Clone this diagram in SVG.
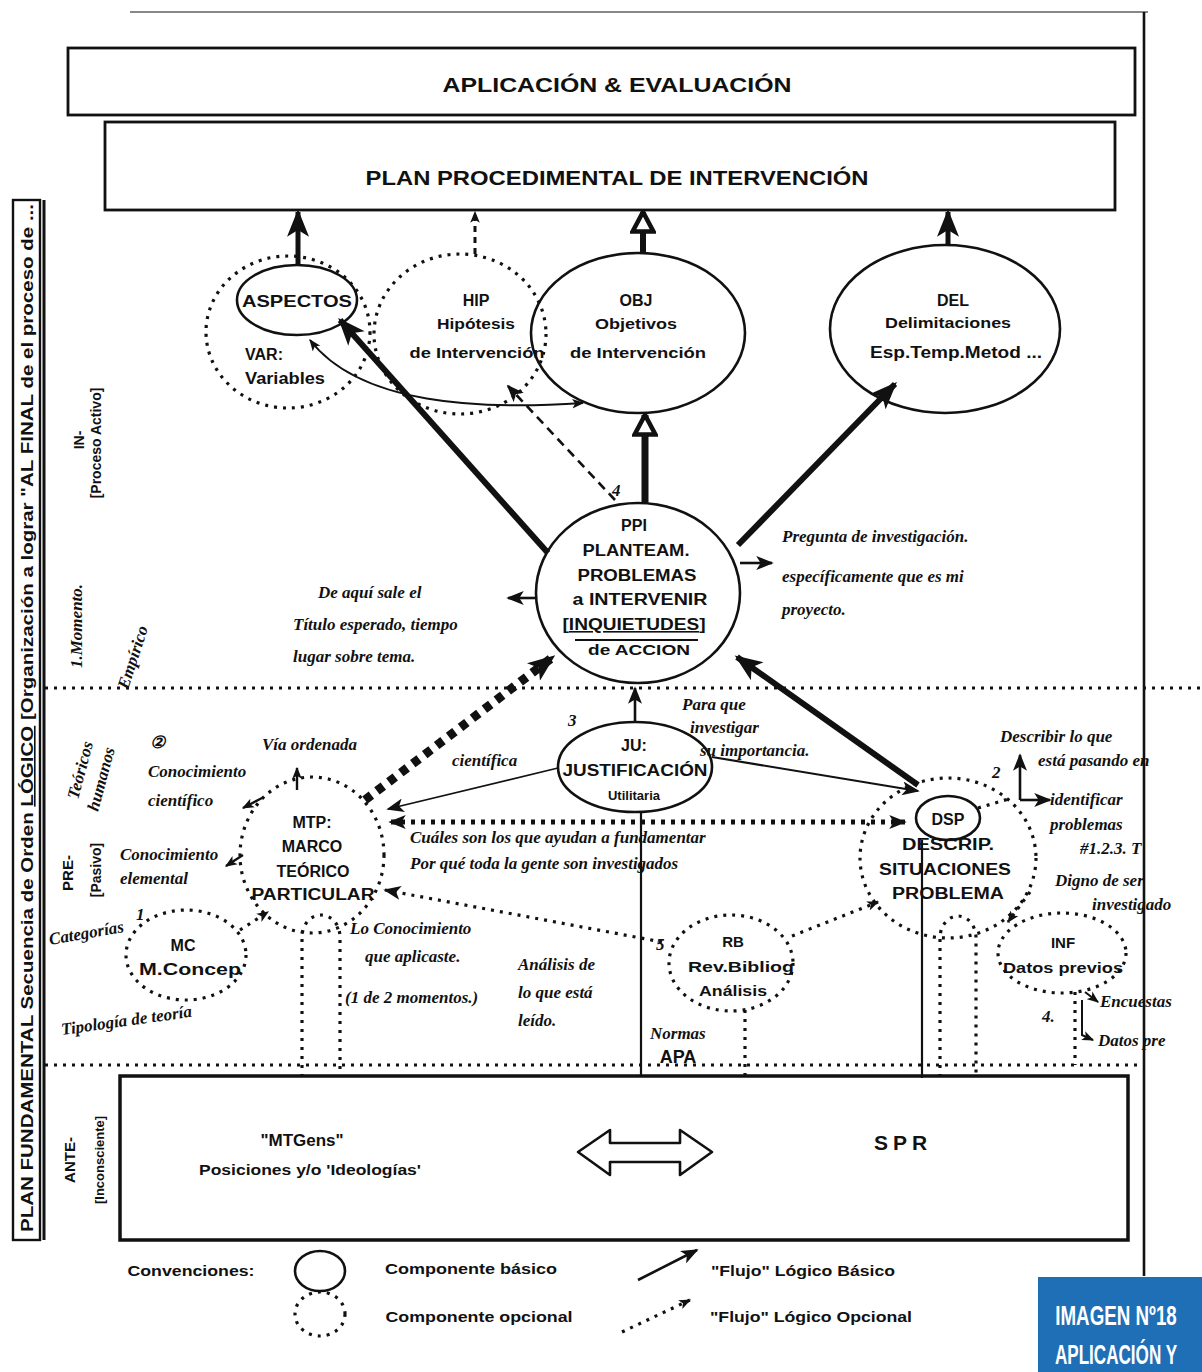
<svg xmlns="http://www.w3.org/2000/svg" width="1202" height="1372" viewBox="0 0 1202 1372">
<style>
.ink{stroke:#111;fill:none}
.solid{stroke:#111;fill:none;stroke-width:2.6}
.dot{stroke:#111;fill:none;stroke-width:3.2;stroke-dasharray:3 6}
.t{font-family:"Liberation Sans",Arial,sans-serif;fill:#111;text-anchor:middle;font-weight:bold}
.b{font-weight:bold}
.h{font-family:"Liberation Serif","DejaVu Serif",serif;font-style:italic;font-weight:bold;fill:#111;font-size:17px}
</style>
<defs>
<marker id="big" viewBox="0 0 20 16" refX="18" refY="8" markerWidth="28" markerHeight="22" orient="auto" markerUnits="userSpaceOnUse"><path d="M0,0 L20,8 L0,16 L5,8 z" fill="#111"/></marker>
<marker id="med" viewBox="0 0 20 16" refX="18" refY="8" markerWidth="18" markerHeight="14" orient="auto-start-reverse" markerUnits="userSpaceOnUse"><path d="M0,0 L20,8 L0,16 L5,8 z" fill="#111"/></marker>
<marker id="sm" viewBox="0 0 20 16" refX="18" refY="8" markerWidth="12" markerHeight="10" orient="auto-start-reverse" markerUnits="userSpaceOnUse"><path d="M0,0 L20,8 L0,16 L5,8 z" fill="#111"/></marker>
<marker id="open" viewBox="0 0 20 20" refX="18" refY="10" markerWidth="26" markerHeight="26" orient="auto" markerUnits="userSpaceOnUse"><path d="M3,2 L18,10 L3,18 z" fill="#fff" stroke="#111" stroke-width="3.5"/></marker>
</defs>
<rect width="1202" height="1372" fill="#fff"/>

<!-- frame lines -->
<g id="frame">
<line x1="130" y1="12" x2="1148" y2="12" stroke="#111" stroke-width="1"/>
<line x1="1144" y1="12" x2="1144" y2="1276" stroke="#111" stroke-width="2.6"/>
<line x1="45" y1="688" x2="1202" y2="688" class="dot" stroke-width="2.6"/>
<line x1="45" y1="1065" x2="1143" y2="1065" class="dot" stroke-width="2.4"/>
</g>

<!-- left vertical label -->
<g id="left-labels">
<rect x="13" y="200" width="27" height="1040" class="ink" stroke-width="2.4"/>
<line x1="44" y1="200" x2="44" y2="1240" stroke="#111" stroke-width="3"/>
<text class="t" font-size="16" transform="translate(33,1232) rotate(-90)" style="text-anchor:start" textLength="1028" lengthAdjust="spacingAndGlyphs">PLAN FUNDAMENTAL  Secuencia de Orden <tspan text-decoration="underline">LÓGICO</tspan> [Organización a lograr "AL FINAL de el proceso de ...</text>
<text class="t" font-size="14" transform="translate(84,440) rotate(-90)">IN-</text>
<text class="t" font-size="14" transform="translate(101,443) rotate(-90)">[Proceso Activo]</text>
<text class="t" font-size="15" transform="translate(73,873) rotate(-90)">PRE-</text>
<text class="t" font-size="14" transform="translate(101,870) rotate(-90)">[Pasivo]</text>
<text class="t" font-size="15" transform="translate(75,1160) rotate(-90)">ANTE-</text>
<text class="t" font-size="13" transform="translate(104,1160) rotate(-90)">[Inconsciente]</text>
</g>

<!-- top boxes -->
<g id="node-aplicacion">
<rect x="68" y="48" width="1067" height="67" class="ink" stroke-width="2.8"/>
<text class="t" x="617" y="92" font-size="21" textLength="349" lengthAdjust="spacingAndGlyphs">APLICACIÓN &amp; EVALUACIÓN</text>
</g>
<g id="node-plan">
<rect x="105" y="122" width="1010" height="88" fill="#fff" stroke="#111" stroke-width="2.8"/>
<text class="t" x="617" y="185" font-size="21" textLength="503" lengthAdjust="spacingAndGlyphs">PLAN PROCEDIMENTAL DE INTERVENCIÓN</text>
</g>

<!-- nodes top -->
<g id="node-var">
<ellipse cx="288" cy="332" rx="82" ry="76" class="dot"/>
<text class="t" x="264" y="360" font-size="16">VAR:</text>
<text class="t" x="285" y="384" font-size="16" textLength="80" lengthAdjust="spacingAndGlyphs">Variables</text>
</g>
<g id="node-aspectos">
<ellipse cx="297" cy="300" rx="60" ry="35" class="solid"/>
<text class="t" x="297" y="307" font-size="17" textLength="110" lengthAdjust="spacingAndGlyphs">ASPECTOS</text>
</g>
<g id="node-hip">
<ellipse cx="460" cy="334" rx="86" ry="80" class="dot"/>
<text class="t" x="476" y="306" font-size="16">HIP</text>
<text class="t" x="476" y="329" font-size="15" textLength="78" lengthAdjust="spacingAndGlyphs">Hipótesis</text>
<text class="t" x="477" y="358" font-size="15" textLength="135" lengthAdjust="spacingAndGlyphs">de Intervención</text>
</g>
<g id="node-obj">
<ellipse cx="638" cy="333" rx="107" ry="80" class="solid"/>
<text class="t" x="636" y="306" font-size="16">OBJ</text>
<text class="t" x="636" y="329" font-size="15" textLength="82" lengthAdjust="spacingAndGlyphs">Objetivos</text>
<text class="t" x="638" y="358" font-size="15" textLength="136" lengthAdjust="spacingAndGlyphs">de Intervención</text>
</g>
<g id="node-del">
<ellipse cx="945" cy="329" rx="115" ry="84" class="solid"/>
<text class="t" x="953" y="306" font-size="16">DEL</text>
<text class="t" x="948" y="328" font-size="15" textLength="126" lengthAdjust="spacingAndGlyphs">Delimitaciones</text>
<text class="t" x="956" y="358" font-size="16" textLength="172" lengthAdjust="spacingAndGlyphs">Esp.Temp.Metod ...</text>
</g>

<!-- PPI -->
<g id="node-ppi">
<ellipse cx="638" cy="593" rx="102" ry="90" class="solid"/>
<text class="t" x="634" y="531" font-size="16">PPI</text>
<text class="t" x="636" y="556" font-size="16" textLength="107" lengthAdjust="spacingAndGlyphs">PLANTEAM.</text>
<text class="t" x="637" y="581" font-size="16" textLength="119" lengthAdjust="spacingAndGlyphs">PROBLEMAS</text>
<text class="t" x="640" y="605" font-size="16" textLength="135" lengthAdjust="spacingAndGlyphs">a INTERVENIR</text>
<text class="t" x="634" y="630" font-size="16" textLength="143" lengthAdjust="spacingAndGlyphs">[<tspan text-decoration="underline">INQUIETUDES</tspan>]</text>
<line x1="575" y1="640" x2="698" y2="640" stroke="#111" stroke-width="2"/>
<text class="t" x="639" y="655" font-size="15" textLength="102" lengthAdjust="spacingAndGlyphs">de ACCION</text>
</g>

<!-- lower nodes -->
<g id="node-ju">
<ellipse cx="635" cy="767" rx="77" ry="45" class="solid"/>
<text class="t" x="634" y="751" font-size="16">JU:</text>
<text class="t" x="635" y="776" font-size="16" textLength="145" lengthAdjust="spacingAndGlyphs">JUSTIFICACIÓN</text>
<text class="t" x="634" y="800" font-size="13">Utilitaria</text>
</g>
<g id="node-mtp">
<ellipse cx="312" cy="855" rx="72" ry="78" class="dot"/>
<text class="t" x="312" y="828" font-size="16">MTP:</text>
<text class="t" x="312" y="852" font-size="16">MARCO</text>
<text class="t" x="313" y="877" font-size="16">TEÓRICO</text>
<text class="t" x="313" y="900" font-size="16" textLength="123" lengthAdjust="spacingAndGlyphs">PARTICULAR</text>
<path d="M302,1095 L302,937 A19,22 0 0 1 340,937 L340,1095" class="dot" stroke-width="3"/>
</g>
<g id="node-dsp">
<ellipse cx="948" cy="858" rx="88" ry="80" class="dot"/>
<ellipse cx="948" cy="818" rx="32" ry="22" class="solid"/>
<text class="t" x="948" y="825" font-size="16">DSP</text>
<text class="t" x="948" y="850" font-size="16" textLength="92" lengthAdjust="spacingAndGlyphs">DESCRIP.</text>
<text class="t" x="945" y="875" font-size="16" textLength="132" lengthAdjust="spacingAndGlyphs">SITUACIONES</text>
<text class="t" x="948" y="899" font-size="16" textLength="112" lengthAdjust="spacingAndGlyphs">PROBLEMA</text>
<path d="M940,1095 L940,938 A18,22 0 0 1 976,938 L976,1095" class="dot" stroke-width="3"/>
</g>
<g id="node-mc">
<ellipse cx="186" cy="955" rx="60" ry="45" class="dot"/>
<text class="t" x="183" y="951" font-size="16">MC</text>
<text class="t" x="190" y="975" font-size="16" textLength="102" lengthAdjust="spacingAndGlyphs">M.Concep</text>
</g>
<g id="node-rb">
<ellipse cx="731" cy="963" rx="62" ry="48" class="dot"/>
<text class="t" x="733" y="947" font-size="15">RB</text>
<text class="t" x="741" y="972" font-size="15" textLength="106" lengthAdjust="spacingAndGlyphs">Rev.Bibliog</text>
<text class="t" x="733" y="996" font-size="15" textLength="68" lengthAdjust="spacingAndGlyphs">Análisis</text>
</g>
<g id="node-inf">
<ellipse cx="1062" cy="953" rx="64" ry="40" class="dot"/>
<text class="t" x="1063" y="948" font-size="15">INF</text>
<text class="t" x="1063" y="973" font-size="15" textLength="120" lengthAdjust="spacingAndGlyphs">Datos previos</text>
</g>

<!-- ANTE box -->
<g id="node-ante">
<rect x="120" y="1076" width="1008" height="164" fill="#fff" stroke="#111" stroke-width="3.5"/>
<text class="t" x="302" y="1146" font-size="17">"MTGens"</text>
<text class="t" x="310" y="1175" font-size="14" textLength="222" lengthAdjust="spacingAndGlyphs">Posiciones y/o 'Ideologías'</text>
<polygon points="578,1152 610,1130 610,1143 680,1143 680,1130 712,1152 680,1175 680,1162 610,1162 610,1175" fill="#fff" stroke="#111" stroke-width="2.6" stroke-linejoin="round"/>
<text class="t" x="903" y="1150" font-size="21" letter-spacing="5">SPR</text>
</g>

<!-- connectors -->
<g id="connectors" stroke-linecap="butt">
<line x1="298" y1="265" x2="298" y2="212" stroke="#111" stroke-width="5" marker-end="url(#big)"/>
<line x1="475" y1="254" x2="475" y2="212" stroke="#111" stroke-width="3" stroke-dasharray="6 5" marker-end="url(#sm)"/>
<line x1="643" y1="253" x2="643" y2="212" stroke="#111" stroke-width="6" marker-end="url(#open)"/>
<line x1="948" y1="245" x2="948" y2="212" stroke="#111" stroke-width="5" marker-end="url(#big)"/>

<line x1="548" y1="553" x2="340" y2="320" stroke="#111" stroke-width="6" marker-end="url(#big)"/>
<line x1="615" y1="500" x2="508" y2="386" stroke="#111" stroke-width="2.6" stroke-dasharray="9 6" marker-end="url(#med)"/>
<line x1="645" y1="503" x2="645" y2="415" stroke="#111" stroke-width="7" marker-end="url(#open)"/>
<line x1="738" y1="545" x2="895" y2="384" stroke="#111" stroke-width="6" marker-end="url(#big)"/>
<path d="M583,403 C480,410 360,405 310,340" class="ink" stroke-width="2" marker-start="url(#sm)" marker-end="url(#sm)"/>

<line x1="537" y1="598" x2="508" y2="598" stroke="#111" stroke-width="2.6" marker-end="url(#med)"/>
<line x1="740" y1="563" x2="772" y2="563" stroke="#111" stroke-width="2.6" marker-end="url(#med)"/>
<line x1="635" y1="722" x2="635" y2="688" stroke="#111" stroke-width="2.6" marker-end="url(#med)"/>
<line x1="365" y1="800" x2="553" y2="657" stroke="#111" stroke-width="9" stroke-dasharray="8 7" marker-end="url(#big)"/>
<line x1="918" y1="785" x2="737" y2="657" stroke="#111" stroke-width="6" marker-end="url(#big)"/>
<line x1="558" y1="768" x2="388" y2="809" stroke="#111" stroke-width="1.8" marker-end="url(#med)"/>
<line x1="712" y1="757" x2="918" y2="791" stroke="#111" stroke-width="2.2" marker-end="url(#med)"/>
<line x1="905" y1="822" x2="390" y2="822" stroke="#111" stroke-width="5" stroke-dasharray="4 6" marker-start="url(#med)" marker-end="url(#med)"/>
<line x1="662" y1="942" x2="385" y2="890" class="dot" marker-end="url(#med)"/>
<line x1="792" y1="936" x2="878" y2="902" class="dot" marker-end="url(#sm)"/>
<line x1="240" y1="930" x2="268" y2="912" class="dot" marker-end="url(#sm)"/>
<line x1="1030" y1="892" x2="1008" y2="922" class="dot" marker-end="url(#sm)"/>
<line x1="978" y1="808" x2="1012" y2="798" class="dot"/>
<line x1="641" y1="812" x2="641" y2="1076" stroke="#111" stroke-width="2.2"/>
<line x1="922" y1="840" x2="922" y2="1078" stroke="#111" stroke-width="2.2"/>
<line x1="745" y1="1010" x2="745" y2="1076" class="dot"/>
<line x1="1075" y1="992" x2="1075" y2="1065" class="dot"/>
<line x1="1020" y1="800" x2="1020" y2="755" stroke="#111" stroke-width="2.6" marker-end="url(#med)"/>
<line x1="1020" y1="800" x2="1050" y2="800" stroke="#111" stroke-width="2.6" marker-end="url(#med)"/>
<line x1="262" y1="798" x2="243" y2="808" stroke="#111" stroke-width="2.4" marker-end="url(#sm)"/>
<line x1="243" y1="855" x2="226" y2="866" stroke="#111" stroke-width="2.4" marker-end="url(#sm)"/>
<line x1="297" y1="790" x2="297" y2="768" stroke="#111" stroke-width="2.4" marker-end="url(#sm)"/>
<line x1="1085" y1="992" x2="1098" y2="1002" stroke="#111" stroke-width="2" marker-end="url(#sm)"/>
<path d="M1082,1000 L1082,1035 L1093,1040" class="ink" stroke-width="2" marker-end="url(#sm)"/>
</g>

<!-- handwritten notes -->
<g id="notes">
<text class="h" x="318" y="598">De aquí sale el</text>
<text class="h" x="293" y="630">Título esperado, tiempo</text>
<text class="h" x="293" y="662">lugar sobre tema.</text>
<text class="h" x="782" y="542" font-size="19">Pregunta de investigación.</text>
<text class="h" x="782" y="582" font-size="19">específicamente que es mi</text>
<text class="h" x="782" y="615" font-size="19">proyecto.</text>
<text class="h" transform="translate(82,668) rotate(-90)">1.Momento.</text>
<text class="h" font-size="15" transform="translate(128,690) rotate(-72)">Empírico</text>
<text class="h" font-size="15" transform="translate(78,800) rotate(-75)">Teóricos</text>
<text class="h" font-size="15" transform="translate(98,812) rotate(-75)">humanos</text>
<text class="h" x="150" y="748" font-size="20">②</text>
<text class="h" x="262" y="750">Vía ordenada</text>
<text class="h" x="148" y="777">Conocimiento</text>
<text class="h" x="148" y="806">científico</text>
<text class="h" x="120" y="860">Conocimiento</text>
<text class="h" x="120" y="884">elemental</text>
<text class="h" x="452" y="766">científica</text>
<text class="h" x="568" y="726" font-size="20">3</text>
<text class="h" x="682" y="710">Para que</text>
<text class="h" x="690" y="733">investigar</text>
<text class="h" x="700" y="756">su importancia.</text>
<text class="h" x="410" y="843">Cuáles son los que ayudan a fundamentar</text>
<text class="h" x="410" y="869">Por qué toda la gente son investigados</text>
<text class="h" x="350" y="934">Lo Conocimiento</text>
<text class="h" x="365" y="962">que aplicaste.</text>
<text class="h" x="345" y="1003">(1 de 2 momentos.)</text>
<text class="h" x="518" y="970">Análisis de</text>
<text class="h" x="518" y="998">lo que está</text>
<text class="h" x="518" y="1026">leído.</text>
<text class="h" x="650" y="1039">Normas</text>
<text class="t" x="678" y="1063" font-size="18">APA</text>
<text class="h" x="656" y="950">5</text>
<text class="h" x="136" y="920">1</text>
<text class="h" font-size="15" transform="translate(50,945) rotate(-10)">Categorías</text>
<text class="h" font-size="15" transform="translate(62,1035) rotate(-8)">Tipología de teoría</text>
<text class="h" x="612" y="496" font-size="20">4</text>
<text class="h" x="992" y="778" font-size="20">2</text>
<text class="h" x="1000" y="742">Describir lo que</text>
<text class="h" x="1038" y="766">está pasando en</text>
<text class="h" x="1050" y="805">identificar</text>
<text class="h" x="1050" y="830">problemas</text>
<text class="h" x="1080" y="854" font-size="19">#1.2.3. T</text>
<text class="h" x="1055" y="886">Digno de ser</text>
<text class="h" x="1092" y="910">investigado</text>
<text class="h" x="1100" y="1007">Encuestas</text>
<text class="h" x="1098" y="1046">Datos pre</text>
<text class="h" x="1042" y="1022">4.</text>
</g>

<!-- legend -->
<g id="legend">
<text class="t" x="191" y="1276" font-size="15" textLength="127" lengthAdjust="spacingAndGlyphs">Convenciones:</text>
<ellipse cx="320" cy="1271" rx="25" ry="20" class="solid" stroke-width="3"/>
<text class="t" x="471" y="1274" font-size="15" textLength="172" lengthAdjust="spacingAndGlyphs">Componente básico</text>
<line x1="638" y1="1280" x2="697" y2="1250" stroke="#111" stroke-width="2.6" marker-end="url(#med)"/>
<text class="t" x="803" y="1276" font-size="15" textLength="184" lengthAdjust="spacingAndGlyphs">"Flujo" Lógico Básico</text>
<ellipse cx="320" cy="1314" rx="25" ry="22" class="dot" stroke-width="3"/>
<text class="t" x="479" y="1322" font-size="15" textLength="187" lengthAdjust="spacingAndGlyphs">Componente opcional</text>
<line x1="622" y1="1332" x2="690" y2="1300" class="dot" marker-end="url(#sm)"/>
<text class="t" x="811" y="1322" font-size="15" textLength="202" lengthAdjust="spacingAndGlyphs">"Flujo" Lógico Opcional</text>
</g>

<!-- badge -->
<g id="badge">
<rect x="1038" y="1277" width="164" height="95" fill="#1f6fb6"/>
<text class="t" x="0" y="0" font-size="28" style="fill:#fff" transform="translate(1116,1325) scale(0.67,1)">IMAGEN Nº18</text>
<text class="t" x="0" y="0" font-size="28" style="fill:#fff" transform="translate(1116,1364) scale(0.61,1)">APLICACIÓN Y</text>
</g>
</svg>
